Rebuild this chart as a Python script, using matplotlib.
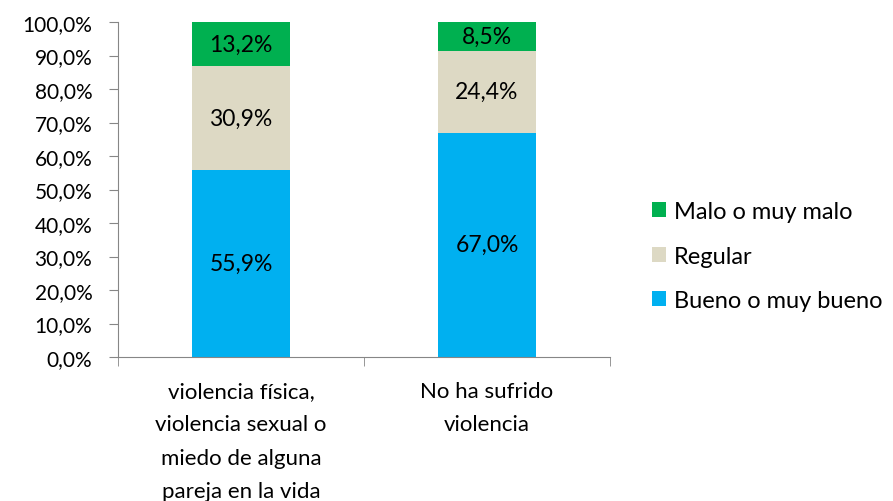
import matplotlib.pyplot as plt
import numpy as np

plt.rcParams['font.family'] = ['Lato', 'DejaVu Sans']

categories = ['violencia física,\nviolencia sexual o\nmiedo de alguna\npareja en la vida',
              'No ha sufrido\nviolencia']
series_names = ['Bueno o muy bueno', 'Regular', 'Malo o muy malo']
bueno = [55.9, 67.0]
regular = [30.9, 24.4]
malo = [13.2, 8.5]
colors = ['#00B0F0', '#DDD9C4', '#00B050']

fig = plt.figure(figsize=(8.93, 5.02), dpi=100)
ax = fig.add_axes([118 / 893, 1 - 358 / 502, 492 / 893, 335 / 502])

x = np.arange(len(categories))
bottom = np.zeros(len(categories))
handles = []
for name, vals, c in zip(series_names, [bueno, regular, malo], colors):
    b = ax.bar(x, vals, width=0.4, bottom=bottom, color=c, label=name)
    handles.append(b)
    for xi, v, bt in zip(x, vals, bottom):
        ax.text(xi, bt + v / 2, f'{v:.1f}%'.replace('.', ','), ha='center', va='center',
                fontsize=16.5, color='black')
    bottom += np.array(vals)

ax.set_xlim(-0.5, 1.5)
ax.set_ylim(0, 100)
ax.set_yticks(np.arange(0, 101, 10))
ax.set_yticklabels([f'{v:.1f}%'.replace('.', ',') for v in np.arange(0, 101, 10)], fontsize=15)
ax.set_xticks(x)
ax.set_xticklabels(categories, fontsize=16, linespacing=1.85, va='top')
ax.set_xticks([-0.5, 0.5, 1.5], minor=True)
ax.tick_params(axis='x', which='major', length=0, pad=17)
ax.tick_params(axis='x', which='minor', length=6.5, color='#868686', direction='out')
ax.tick_params(axis='y', length=6.5, color='#868686', direction='out', pad=12)
for s in ['top', 'right']:
    ax.spines[s].set_visible(False)
for s in ['left', 'bottom']:
    ax.spines[s].set_color('#868686')

leg = fig.legend(handles[::-1], series_names[::-1], loc='center left',
                 bbox_to_anchor=(631 / 893, 1 - 257 / 502), frameon=False,
                 fontsize=17, handlelength=0.6, handleheight=0.6, labelspacing=1.0,
                 handletextpad=0.3)

fig.savefig('out.png', dpi=100)
